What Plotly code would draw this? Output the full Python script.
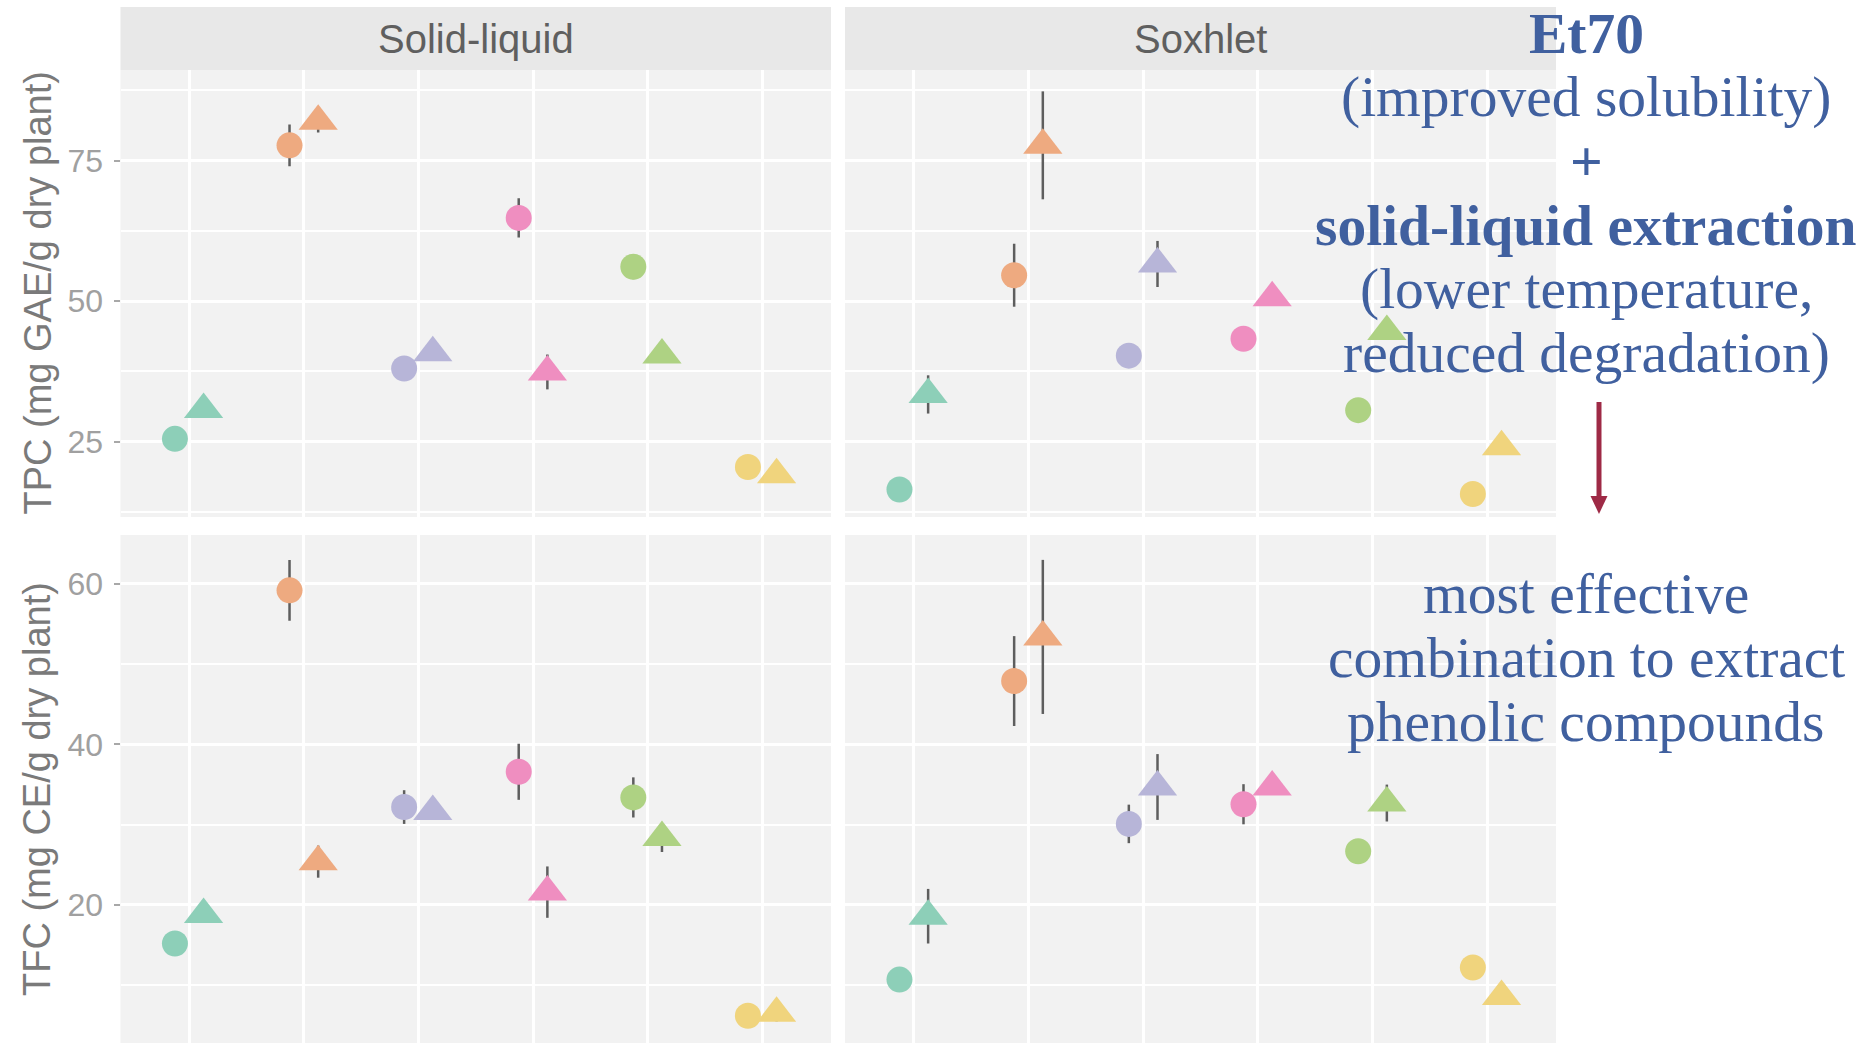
import plotly.graph_objects as go

W, H = 1874, 1043

# x positions of the six solvents and their colours
solvent_pos = [1, 2, 3, 4, 5, 6]
solvent_colors = ["#8dcfb8", "#eeaa80", "#b7b5d8", "#ef8ec0", "#aed283", "#f0d47d"]
dodge = 0.125

# TPC (mg GAE/g dry plant)
tpc_sl_circle = [25.5, 77.7, 38.0, 64.8, 56.1, 20.5]
tpc_sl_circle_sd = [1.0, 3.7, 1.0, 3.5, 2.2, 1.0]
tpc_sl_triangle = [30.7, 82.0, 40.8, 37.4, 40.4, 19.1]
tpc_sl_triangle_sd = [1.0, 2.0, 1.0, 3.1, 1.0, 1.0]
tpc_sx_circle = [16.5, 54.6, 40.3, 43.3, 30.6, 15.7]
tpc_sx_circle_sd = [1.0, 5.6, 1.0, 1.5, 1.0, 1.0]
tpc_sx_triangle = [33.4, 77.7, 56.6, 50.6, 44.6, 24.1]
tpc_sx_triangle_sd = [3.4, 9.6, 4.1, 1.0, 1.0, 1.0]

# TFC (mg CE/g dry plant)
tfc_sl_circle = [15.2, 59.2, 32.2, 36.6, 33.4, 6.2]
tfc_sl_circle_sd = [1.0, 3.8, 2.1, 3.5, 2.5, 1.0]
tfc_sl_triangle = [18.8, 25.4, 31.65, 21.6, 28.4, 6.5]
tfc_sl_triangle_sd = [1.0, 2.0, 1.0, 3.2, 1.8, 1.0]
tfc_sx_circle = [10.7, 47.9, 30.1, 32.55, 26.7, 12.2]
tfc_sx_circle_sd = [1.0, 5.6, 2.4, 2.5, 1.0, 1.0]
tfc_sx_triangle = [18.6, 53.4, 34.7, 34.7, 32.7, 8.6]
tfc_sx_triangle_sd = [3.4, 9.6, 4.1, 1.0, 2.3, 1.0]

methods = ["Solid-liquid", "Soxhlet"]
y_titles = ["TPC (mg GAE/g dry plant)", "TFC (mg CE/g dry plant)"]
y_ranges = [[11.6, 91.1], [2.8, 66.1]]
y_dticks = [25, 20]

note_top = ["<b>Et70</b>", "(improved solubility)", "<b>+</b>",
            "<b>solid-liquid extraction</b>", "(lower temperature,",
            "reduced degradation)"]
note_bottom = ["most effective", "combination to extract", "phenolic compounds"]

SANS = "Liberation Sans, Arial, sans-serif"
SERIF = "Liberation Serif, Times New Roman, serif"
NOTE_COLOR = "#40609f"


def fx(px):
    return px / W


def fy(py):
    return 1 - py / H


x_domains = [[fx(120.5), fx(831)], [fx(845), fx(1556)]]
y_domains = [[fy(517), fy(70)], [0, fy(535)]]

# panels: (row, col) -> (circle, circle_sd, triangle, triangle_sd)
panels = {
    (0, 0): (tpc_sl_circle, tpc_sl_circle_sd, tpc_sl_triangle, tpc_sl_triangle_sd),
    (0, 1): (tpc_sx_circle, tpc_sx_circle_sd, tpc_sx_triangle, tpc_sx_triangle_sd),
    (1, 0): (tfc_sl_circle, tfc_sl_circle_sd, tfc_sl_triangle, tfc_sl_triangle_sd),
    (1, 1): (tfc_sx_circle, tfc_sx_circle_sd, tfc_sx_triangle, tfc_sx_triangle_sd),
}

fig = go.Figure()
layout = dict(
    width=W, height=H,
    margin=dict(l=0, r=0, t=0, b=0),
    paper_bgcolor="white", plot_bgcolor="#f2f2f2",
    showlegend=False,
    font=dict(family=SANS),
)

for (r, c), (circ, circ_sd, tri, tri_sd) in panels.items():
    idx = r * 2 + c + 1
    sfx = "" if idx == 1 else str(idx)
    xa, ya = "x" + sfx, "y" + sfx
    layout["xaxis" + sfx] = dict(
        domain=x_domains[c], anchor=ya, range=[0.4, 6.6],
        tickvals=solvent_pos, showticklabels=False, ticks="",
        showgrid=True, gridcolor="white", gridwidth=3, zeroline=False,
        showline=False,
    )
    layout["yaxis" + sfx] = dict(
        domain=y_domains[r], anchor=xa, range=y_ranges[r],
        dtick=y_dticks[r], tick0=0,
        showticklabels=(c == 0), ticks="outside" if c == 0 else "",
        ticklen=6, tickwidth=2, tickcolor="#a8a8a8",
        tickfont=dict(size=32, color="#a0a0a0", family=SANS),
        ticklabelstandoff=4,
        showgrid=True, gridcolor="white", gridwidth=3, zeroline=False,
        showline=False,
        minor=dict(dtick=y_dticks[r] / 2, tick0=0, showgrid=True,
                   gridcolor="white", gridwidth=1.6, ticks=""),
    )
    for vals, sds, off, sym, size in [
        (circ, circ_sd, -dodge, "circle", 26),
        (tri, tri_sd, dodge, "triangle-up", 34),
    ]:
        fig.add_trace(go.Scatter(
            x=[p + off for p in solvent_pos], y=vals,
            xaxis=xa, yaxis=ya, mode="markers",
            marker=dict(symbol=sym, size=size, color=solvent_colors,
                        line=dict(width=0)),
            error_y=dict(type="data", array=sds, visible=True,
                         color="#5e5e5e", thickness=2.5, width=0),
            hoverinfo="x+y",
        ))

shapes = []
annotations = []

# facet strips across the top row
for c, name in enumerate(methods):
    shapes.append(dict(type="rect", xref="paper", yref="paper",
                       x0=x_domains[c][0], x1=x_domains[c][1],
                       y0=fy(70), y1=fy(7), fillcolor="#e8e8e8",
                       line=dict(width=0), layer="below"))
    annotations.append(dict(xref="paper", yref="paper",
                            x=sum(x_domains[c]) / 2, y=fy(38.5),
                            text=name, showarrow=False,
                            xanchor="center", yanchor="middle",
                            font=dict(size=40, color="#5f5f5f", family=SANS)))

# y-axis titles
for r, title in enumerate(y_titles):
    annotations.append(dict(xref="paper", yref="paper",
                            x=fx(37), y=sum(y_domains[r]) / 2,
                            text=title, textangle=-90, showarrow=False,
                            xanchor="center", yanchor="middle",
                            font=dict(size=38, color="#7a7a7a", family=SANS)))

# explanatory note on the right, one annotation per line
note_x = fx(1586)
for i, line in enumerate(note_top):
    annotations.append(dict(xref="paper", yref="paper", x=note_x,
                            y=fy(33 + 64 * i), text=line, showarrow=False,
                            xanchor="center", yanchor="middle", borderpad=0,
                            font=dict(size=57.5, color=NOTE_COLOR, family=SERIF)))
for i, line in enumerate(note_bottom):
    annotations.append(dict(xref="paper", yref="paper", x=note_x,
                            y=fy(593 + 64 * i), text=line, showarrow=False,
                            xanchor="center", yanchor="middle", borderpad=0,
                            font=dict(size=57.5, color=NOTE_COLOR, family=SERIF)))

# downward arrow between the two notes
arrow_color = "#9e2a46"
shapes.append(dict(type="line", xref="paper", yref="paper",
                   x0=fx(1599), x1=fx(1599), y0=fy(402), y1=fy(498),
                   line=dict(color=arrow_color, width=5)))
shapes.append(dict(type="path", xref="paper", yref="paper",
                   path=f"M {fx(1590.5)} {fy(496)} L {fx(1607.5)} {fy(496)} "
                        f"L {fx(1599)} {fy(514)} Z",
                   fillcolor=arrow_color, line=dict(width=0)))

layout["shapes"] = shapes
layout["annotations"] = annotations
fig.update_layout(**layout)
fig.write_html("out.html")
